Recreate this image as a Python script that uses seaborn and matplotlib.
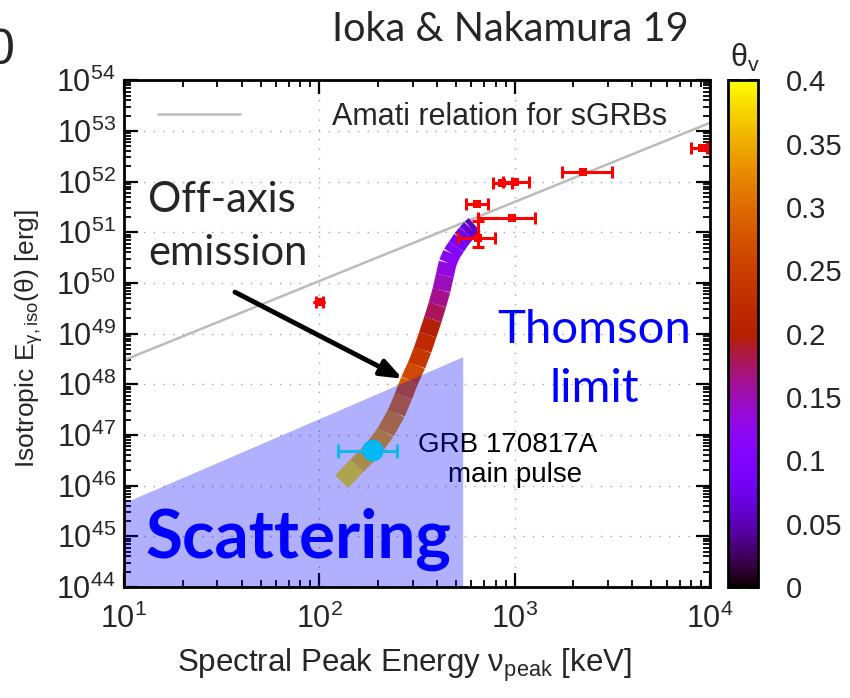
import numpy as np
import pandas as pd
import matplotlib
matplotlib.use("Agg")
import matplotlib.pyplot as plt
import seaborn as sns
from matplotlib.collections import LineCollection
from matplotlib import colors as mcolors, cm
from matplotlib.ticker import LogLocator, NullFormatter

# ---------------- data ----------------
amati_ep = [10.0, 1.0e4]
amati_e = [3.0e48, 1.45e53]

sgrb_ep = [100, 640, 647, 857, 1000, 966, 2230, 9060]
sgrb_e = [4.2e49, 3.6e51, 7.8e50, 9.3e51, 1.0e52, 1.9e51, 1.55e52, 4.6e52]
sgrb_ep_lo = [96, 561, 511, 771, 870, 647, 1750, 8000]
sgrb_ep_hi = [104, 728, 791, 966, 1180, 1265, 3160, 9700]
sgrb_e_lo = [4.2e49, 3.6e51, 5.1e50, 9.3e51, 1.0e52, 1.9e51, 1.55e52, 4.6e52]
sgrb_e_hi = [4.2e49, 3.6e51, 1.7e51, 9.3e51, 1.0e52, 1.9e51, 1.55e52, 4.6e52]

grb_ep = [188]
grb_e = [4.9e46]
grb_ep_lo = [124]
grb_ep_hi = [250]

curve_ep = [130, 156, 188, 219, 248, 270, 290, 315, 338, 359, 381,
            402, 422, 439, 454, 476, 503, 535, 566, 596, 624]
curve_e = [1.2e46, 2.5e46, 5.1e46, 1.15e47, 2.7e47, 5.9e47, 1.2e48, 2.4e48,
           4.8e48, 9.5e48, 1.9e49, 3.7e49, 7.2e49, 1.4e50, 2.5e50, 3.8e50,
           5.2e50, 7.4e50, 9.6e50, 1.2e51, 1.4e51]
curve_theta = [0.40, 0.38, 0.36, 0.34, 0.32, 0.30, 0.275, 0.25, 0.23, 0.21,
               0.185, 0.17, 0.155, 0.14, 0.125, 0.11, 0.095, 0.085, 0.07,
               0.06, 0.05]

thomson_ep = [10.0, 542.0]
thomson_e_top = [4.6e45, 3.5e48]
thomson_e_bottom = 1.0e44

cbar_ticks = [0, 0.05, 0.1, 0.15, 0.2, 0.25, 0.3, 0.35, 0.4]
cbar_labels = ["0", "0.05", "0.1", "0.15", "0.2", "0.25", "0.3", "0.35", "0.4"]

# ---------------- style ----------------
sns.set_theme(style="ticks")
plt.rcParams["font.family"] = ["Liberation Sans", "DejaVu Sans"]
plt.rcParams["mathtext.fontset"] = "custom"
plt.rcParams["mathtext.rm"] = "Liberation Sans"
plt.rcParams["mathtext.it"] = "Liberation Sans"
plt.rcParams["mathtext.bf"] = "Liberation Sans:bold"

W, H = 850, 698
fig = plt.figure(figsize=(W / 100, H / 100), dpi=100)
ax = fig.add_axes([124 / W, 1 - 587 / H, 586 / W, 506.7 / H])
cax = fig.add_axes([728 / W, 1 - 587 / H, 30 / W, 506.7 / H])

ax.set_xscale("log")
ax.set_yscale("log")
ax.set_xlim(10, 1e4)
ax.set_ylim(1e44, 1e54)

# grid
ax.grid(True, which="major", linestyle=(0, (1, 6)), color="#a8a8a8", lw=1.0, zorder=0)
ax.set_axisbelow(True)

# Amati relation
amati_df = pd.DataFrame({"ep": amati_ep, "e": amati_e})
sns.lineplot(data=amati_df, x="ep", y="e", ax=ax, color="#bbbbbb", lw=1.8,
             label="Amati relation for sGRBs", zorder=2)

# off-axis emission curve
cmap = plt.get_cmap("gnuplot")
norm = mcolors.Normalize(0, 0.4)
pts = np.column_stack([curve_ep, curve_e])
segs = np.stack([pts[:-1], pts[1:]], axis=1)
th = np.asarray(curve_theta)
lc = LineCollection(segs, cmap=cmap, norm=norm, linewidths=13, capstyle="butt",
                    joinstyle="round", zorder=3)
lc.set_array(0.5 * (th[:-1] + th[1:]))
ax.add_collection(lc)

# GRB text (under shading)
ax.text(0.654, 0.266, "GRB 170817A", transform=ax.transAxes, ha="center",
        va="baseline", fontsize=20, color="black", zorder=3.5)
ax.text(0.667, 0.207, "main pulse", transform=ax.transAxes, ha="center",
        va="baseline", fontsize=20, color="black", zorder=3.5)

# Thomson shading
ax.fill_between(thomson_ep, thomson_e_bottom, thomson_e_top, color="blue",
                alpha=0.31, lw=0, zorder=4)

# sGRB data
sg = pd.DataFrame({"ep": sgrb_ep, "e": sgrb_e})
xerr = [np.array(sgrb_ep) - np.array(sgrb_ep_lo), np.array(sgrb_ep_hi) - np.array(sgrb_ep)]
yerr = [np.array(sgrb_e) - np.array(sgrb_e_lo), np.array(sgrb_e_hi) - np.array(sgrb_e)]
ax.errorbar(sgrb_ep, sgrb_e, xerr=xerr, yerr=yerr, fmt="none", ecolor="red",
            elinewidth=2.2, capsize=4, capthick=2.2, zorder=5)
sns.scatterplot(data=sg, x="ep", y="e", ax=ax, color="red", marker="s", s=30,
                edgecolor="red", linewidth=0, zorder=5, legend=False)

# GRB 170817A
gd = pd.DataFrame({"ep": grb_ep, "e": grb_e})
ax.errorbar(grb_ep, grb_e,
            xerr=[np.array(grb_ep) - np.array(grb_ep_lo), np.array(grb_ep_hi) - np.array(grb_ep)],
            fmt="none", ecolor="#10b8f0", elinewidth=2.2, capsize=5, capthick=2.2, zorder=6)
sns.scatterplot(data=gd, x="ep", y="e", ax=ax, color="#00b8f5", s=240,
                edgecolor="none", zorder=7, legend=False)

# arrow
ax.annotate("", xy=(267, 1.29e48), xytext=(37, 6.6e49),
            arrowprops=dict(arrowstyle="-|>,head_length=0.65,head_width=0.25",
                            lw=3.5, color="black", mutation_scale=20,
                            shrinkA=0, shrinkB=0), zorder=8)

# annotations
ax.text(0.041, 0.740, "Off-axis", transform=ax.transAxes, fontsize=30,
        family="Lato", va="baseline", ha="left", zorder=8)
ax.text(0.041, 0.635, "emission", transform=ax.transAxes, fontsize=30,
        family="Lato", va="baseline", ha="left", zorder=8)
ax.text(0.802, 0.482, "Thomson", transform=ax.transAxes, fontsize=34,
        family="Lato", color="blue", va="baseline", ha="center", zorder=8)
ax.text(0.802, 0.365, "limit", transform=ax.transAxes, fontsize=34,
        family="Lato", color="blue", va="baseline", ha="center", zorder=8)
ax.text(0.297, 0.057, "Scattering", transform=ax.transAxes, fontsize=48.5,
        family="Lato", weight="bold", color="blue", va="baseline", ha="center", zorder=8)

# legend
ax.legend(loc="upper left", bbox_to_anchor=(0.058, 0.958), frameon=False,
          fontsize=22, handlelength=2.68, handletextpad=3.0, borderpad=0,
          borderaxespad=0)

# axes styling
ax.set_xlabel("Spectral Peak Energy ν$_{\\mathregular{peak}}$ [keV]", fontsize=22.5)
ax.set_ylabel("Isotropic E$_{\\mathregular{γ,iso}}$(θ) [erg]", fontsize=19)
ax.xaxis.set_label_coords(0.478, -0.118)
ax.yaxis.set_label_coords(-0.135, 0.49)

ax.xaxis.set_major_locator(LogLocator(base=10, numticks=20))
ax.yaxis.set_major_locator(LogLocator(base=10, numticks=20))
ax.xaxis.set_minor_locator(LogLocator(base=10, subs=np.arange(2, 10), numticks=100))
ax.yaxis.set_minor_locator(LogLocator(base=10, subs=np.arange(2, 10), numticks=100))
ax.xaxis.set_minor_formatter(NullFormatter())
ax.yaxis.set_minor_formatter(NullFormatter())
ax.tick_params(which="major", direction="in", length=10, width=1.6, top=True,
               right=True, labelsize=22, color="black")
ax.tick_params(which="minor", direction="in", length=5, width=1.3, top=True,
               right=True, color="black")
ax.tick_params(axis="x", which="major", pad=12)
ax.tick_params(axis="y", which="major", pad=6)
for sp in ax.spines.values():
    sp.set_linewidth(2.0)
    sp.set_color("black")
    sp.set_zorder(9)

# colorbar
sm = cm.ScalarMappable(norm=norm, cmap=cmap)
cb = fig.colorbar(sm, cax=cax)
cb.set_ticks(cbar_ticks)
cb.set_ticklabels(cbar_labels)
cax.tick_params(direction="in", length=9, width=2, left=True, right=True,
                labelsize=21, pad=20, color="black")
cb.outline.set_linewidth(2)
cb.outline.set_edgecolor("black")

# titles
fig.text(0.600, 1 - 41 / H, "Ioka & Nakamura 19", fontsize=28.5, family="Lato",
         ha="center", va="baseline")
fig.text(745 / W, 1 - 67 / H, "θ$_{\\mathregular{v}}$", fontsize=22,
         ha="center", va="baseline")
fig.text(15 / W, 1 - 64 / H, "0", fontsize=36, ha="right", va="baseline")

fig.savefig("out.png", dpi=100)
